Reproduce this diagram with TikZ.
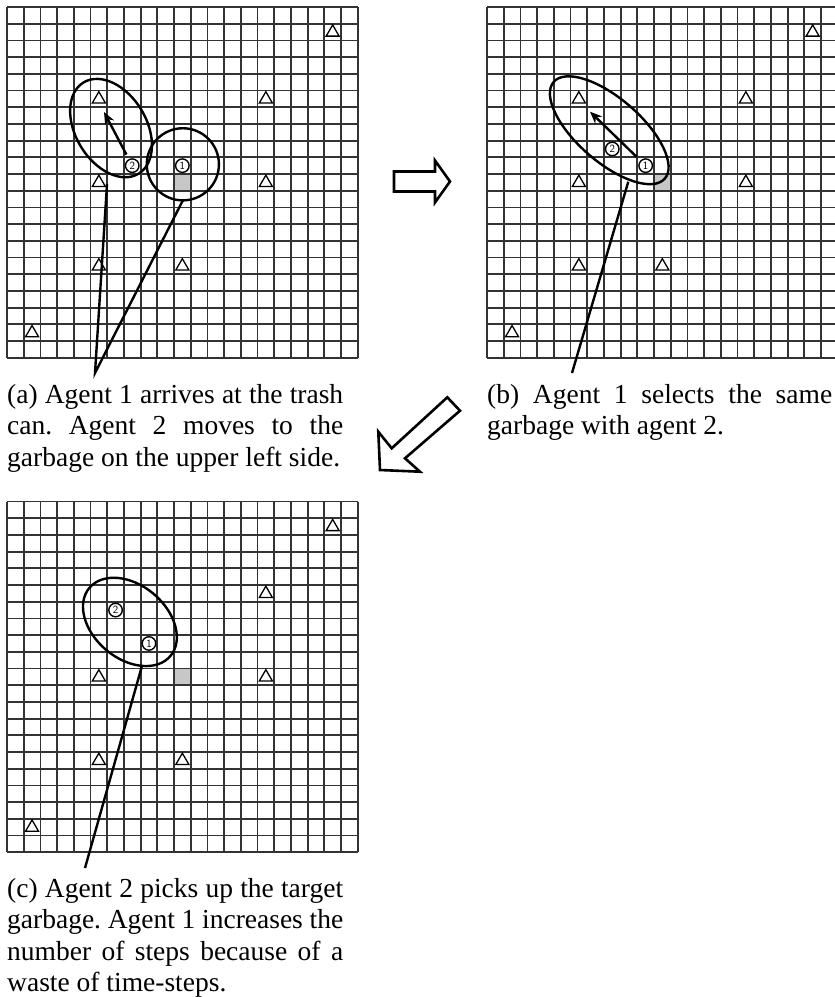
\documentclass[tikz,border=0pt]{standalone}
\usepackage{fontspec}
\setmainfont{Liberation Serif}
\usepackage{tikz}
\usetikzlibrary{arrows.meta,shapes.geometric}

\newcommand\capfont{\fontsize{27.5}{31.5}\selectfont\frenchspacing\hyphenpenalty=10000\tolerance=10000}

\begin{document}
\begin{tikzpicture}[x=1pt,y=-1pt,
  gridline/.style={black!80,line width=1.8pt},
  trashcell/.style={black!22},
  garb/.style={draw,fill=white,regular polygon,regular polygon sides=3,minimum size=15pt,inner sep=0pt,line width=1.3pt},
  agent/.style={draw,circle,fill=white,minimum size=13.5pt,inner sep=0pt,line width=1.4pt,font=\sffamily\fontsize{11}{11}\selectfont},
  ring/.style={line width=2.4pt},
  move/.style={-{Stealth[length=12pt,width=10pt]},line width=2.4pt,shorten <=5pt},
  pointer/.style={line width=2.4pt,line join=miter},
  capbox/.style={anchor=base west,inner sep=0pt,text width=336pt,align=justify,font=\capfont},
  bigarrow/.style={draw,fill=white,line width=2.6pt,line join=miter}]
\useasboundingbox (0,0) rectangle (835,997);
\clip (0,0) rectangle (835,997);
\fill[white] (0,0) rectangle (835,997);

% grids, trash can and garbage
\foreach \p/\gx/\gy in {a/7/7,b/487/7,c/7/501.5} {
  \begin{scope}[shift={(\gx,\gy)},x=16.7pt,y=-16.7pt]
    \fill[trashcell] (10,10) rectangle (11,11);
    \foreach \k in {0,...,21} {
      \draw[gridline] (\k,0) -- (\k,21);
      \draw[gridline] (0,\k) -- (21,\k);
    }
    \foreach \c/\r [count=\i] in {19/1,15/5,5/10,15/10,5/15,10/15,1/19}
      \node[garb] (garb-\p\i) at (\c+0.5,\r+0.52) {};
  \end{scope}
}

% (a)
\begin{scope}[shift={(7,7)},x=16.7pt,y=-16.7pt]
  \node[garb] (garb-a0) at (5.5,5.52) {};
  \draw[ring,rotate around={121:(6.23,7.25)}] (6.23,7.25) ellipse [x radius=3.19,y radius=2.12];
  \draw[ring] (10.53,9.42) circle [radius=2.16];
  \coordinate (goal-a) at (5.81,6.29);
  \node[agent] (ag-a1) at (10.5,9.5) {1};
  \node[agent] (ag-a2) at (7.5,9.5) {2};
  \draw[move] (ag-a2) -- (goal-a);
  \coordinate (foot-a1) at (5.99,10.6);
  \coordinate (foot-a2) at (10.53,11.58);
\end{scope}
\coordinate (tip-a) at (95,373);
\draw[pointer] (foot-a1) -- (tip-a) -- (foot-a2);
\node[capbox] (cap-a) at (7,403.3) {(a) Agent 1 arrives at the trash\linebreak can. Agent 2 moves to the\linebreak garbage on the upper left side.};

% (b)
\begin{scope}[shift={(487,7)},x=16.7pt,y=-16.7pt]
  \node[garb] (garb-b0) at (5.5,5.52) {};
  \draw[ring,rotate around={-41:(7.32,7.38)}] (7.32,7.38) ellipse [x radius=4.41,y radius=1.9];
  \coordinate (goal-b) at (6.17,6.27);
  \node[agent] (ag-b1) at (9.5,9.5) {1};
  \node[agent] (ag-b2) at (7.5,8.5) {2};
  \draw[move] (ag-b1) -- (goal-b);
  \coordinate (foot-b) at (8.46,10.46);
\end{scope}
\coordinate (tip-b) at (572,373);
\draw[pointer] (foot-b) -- (tip-b);
\node[capbox,text width=345pt] (cap-b) at (487,403.3) {(b) Agent 1 selects the same\linebreak garbage with agent 2.};

% (c)
\begin{scope}[shift={(7,501.5)},x=16.7pt,y=-16.7pt]
  \draw[ring,rotate around={-40:(7.36,7.21)}] (7.36,7.21) ellipse [x radius=3.17,y radius=2.2];
  \node[agent] (ag-c1) at (8.5,8.5) {1};
  \node[agent] (ag-c2) at (6.5,6.5) {2};
  \coordinate (foot-c) at (8.07,9.89);
\end{scope}
\coordinate (tip-c) at (85,868);
\draw[pointer] (foot-c) -- (tip-c);
\node[capbox] (cap-c) at (7,897) {(c) Agent 2 picks up the target\linebreak garbage. Agent 1 increases the\linebreak number of steps because of a\linebreak waste of time-steps.};

% step arrows
\draw[bigarrow] (394,171.5) -- (435,171.5) -- (435,160.5) -- (450,181.5) -- (435,202.5) -- (435,191.5) -- (394,191.5) -- cycle;
\draw[bigarrow] (447.3,397.3) -- (460,410.7) -- (405,458.3) -- (420,471.7) -- (380,470) -- (378.3,431.7) -- (391.7,448.3) -- cycle;
\end{tikzpicture}
\end{document}
